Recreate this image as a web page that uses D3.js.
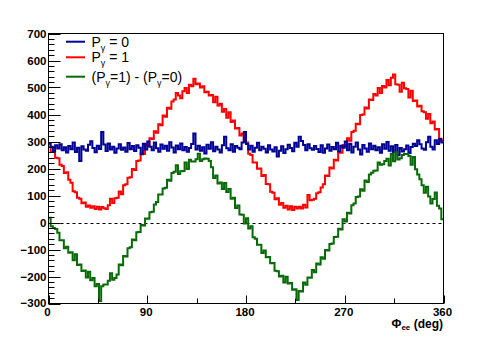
<!DOCTYPE html>
<html>
<head>
<meta charset="utf-8">
<script src="https://d3js.org/d3.v7.min.js"></script>
<style>
  body { margin: 0; background: #fff; }
  svg { display: block; }
  text { font-family: "Liberation Sans", Arial, sans-serif; }
</style>
</head>
<body>
<svg id="chart" width="493" height="337"></svg>
<script>
// bins of 2 deg, 0..360
var binWidth = 2;
var xTicks = [0, 90, 180, 270, 360];
var yTicks = [-300, -200, -100, 0, 100, 200, 300, 400, 500, 600, 700];

var p1 = [ // P_gamma = 1 (red)
  281, 262, 266, 240, 238, 214, 209, 183, 186, 158,
  147, 116, 112, 92, 88, 71, 74, 58, 63, 55,
  60, 50, 58, 48, 57, 53, 50, 64, 88, 72,
  90, 92, 115, 105, 138, 142, 166, 168, 198, 194,
  228, 230, 256, 254, 290, 284, 312, 309, 338, 332,
  364, 360, 396, 392, 425, 421, 448, 456, 480, 470,
  460, 486, 498, 480, 510, 505, 532, 512, 515, 500,
  505, 482, 484, 470, 472, 445, 466, 433, 440, 410,
  420, 388, 408, 372, 378, 348, 350, 322, 330, 298,
  296, 255, 250, 222, 222, 199, 200, 172, 176, 143,
  142, 114, 110, 86, 90, 66, 72, 55, 62, 48,
  60, 46, 58, 52, 58, 52, 66, 56, 102, 82,
  84, 88, 108, 112, 130, 142, 174, 172, 204, 200,
  232, 230, 260, 258, 287, 282, 312, 303, 335, 340,
  366, 364, 398, 400, 426, 422, 456, 454, 476, 470,
  498, 480, 506, 500, 528, 508, 536, 548, 512, 510,
  484, 518, 497, 494, 463, 488, 450, 452, 430, 432,
  412, 408, 384, 402, 368, 374, 344, 346, 310, 304
];

var p0 = [ // P_gamma = 0 (blue)
  292, 281, 263, 286, 274, 290, 268, 279, 259, 283,
  271, 296, 261, 277, 228, 282, 270, 266, 288, 301,
  276, 260, 284, 272, 335, 289, 265, 293, 270, 281,
  258, 274, 290, 269, 278, 262, 294, 271, 283, 265,
  286, 277, 253, 292, 270, 300, 281, 268, 296, 275,
  262, 289, 273, 284, 266, 297, 278, 259, 285, 271,
  293, 268, 280, 262, 276, 291, 330, 270, 284, 266,
  279, 256, 288, 273, 297, 264, 281, 270, 259, 286,
  318, 275, 268, 290, 262, 283, 277, 271, 296, 335,
  291, 270, 284, 262, 277, 295, 268, 281, 273, 259,
  286, 270, 263, 279, 244, 266, 282, 257, 271, 288,
  276, 264, 295, 281, 318, 302, 287, 268, 290, 275,
  269, 283, 272, 261, 286, 258, 274, 289, 266, 280,
  271, 295, 263, 284, 277, 300, 268, 292, 259, 281,
  296, 270, 252, 287, 274, 262, 293, 271, 284, 268,
  279, 258, 290, 273, 298, 266, 282, 261, 287, 249,
  276, 263, 271, 285, 257, 280, 292, 283, 305, 290,
  274, 269, 297, 318, 281, 270, 305, 291, 309, 296
];

var diff = [ // (P=1) - (P=0) (green)
  18, -14, -20, -24, -38, -66, -66, -95, -90, -112,
  -110, -140, -118, -157, -156, -180, -178, -204, -182, -214,
  -206, -236, -228, -291, -236, -230, -230, -216, -188, -212,
  -206, -193, -156, -158, -124, -126, -95, -92, -63, -66,
  -36, -35, -9, -11, 15, 14, 38, 40, 67, 76,
  104, 104, 126, 129, 158, 155, 183, 188, 212, 180,
  190, 191, 222, 198, 232, 226, 226, 234, 255, 228,
  234, 237, 236, 228, 205, 165, 174, 144, 148, 124,
  146, 113, 124, 88, 92, 54, 63, 30, 29, -4,
  16, -22, -14, -55, -60, -82, -82, -113, -104, -129,
  -128, -151, -150, -179, -181, -200, -197, -222, -201, -226,
  -224, -249, -247, -287, -254, -256, -222, -231, -204, -205,
  -176, -184, -152, -156, -129, -134, -102, -104, -80, -78,
  -54, -53, -23, -26, 12, 4, 36, 33, 64, 70,
  94, 96, 123, 118, 156, 150, 178, 184, 192, 193,
  222, 214, 216, 228, 236, 211, 255, 227, 260, 233,
  238, 250, 254, 254, 246, 214, 243, 197, 178, 160,
  138, 110, 132, 96, 70, 87, 111, 62, 52, 12
];

var svg = d3.select("#chart");

var x = d3.scaleLinear().domain([0, 360]).range([48.5, 443.5]),
    y = d3.scaleLinear().domain([-300, 700]).range([303.5, 33.5]);

// histogram as steps
function steps(vals) {
  var pts = vals.map(function(v, i) { return [i * binWidth, v]; });
  pts.push([vals.length * binWidth, vals[vals.length - 1]]);
  return pts;
}
var line = d3.line()
  .curve(d3.curveStepAfter)
  .x(function(d) { return x(d[0]); })
  .y(function(d) { return y(d[1]); });

var series = [
  {id: "p1", vals: p1, color: "#ff0000"},
  {id: "p0", vals: p0, color: "#000096"},
  {id: "diff", vals: diff, color: "#066b06"}
];

// zero line
svg.append("line")
  .attr("x1", x(0)).attr("x2", x(360))
  .attr("y1", Math.round(y(0)) + 0.5).attr("y2", Math.round(y(0)) + 0.5)
  .attr("stroke", "#000").attr("stroke-width", 1)
  .attr("stroke-dasharray", "3,3");

svg.selectAll(".hist")
  .data(series)
  .enter().append("path")
  .attr("class", "hist")
  .attr("d", function(d) { return line(steps(d.vals)); })
  .attr("fill", "none")
  .attr("stroke", function(d) { return d.color; })
  .attr("stroke-width", 2);

// frame
svg.append("rect")
  .attr("x", x(0)).attr("y", y(700))
  .attr("width", x(360) - x(0)).attr("height", y(-300) - y(700))
  .attr("fill", "none").attr("stroke", "#000").attr("stroke-width", 1);

// y axis ticks (inward)
var yMinor = d3.range(-300, 701, 20).filter(function(v) { return v % 100 !== 0; });
svg.selectAll(".ymaj").data(yTicks).enter().append("line")
  .attr("x1", x(0)).attr("x2", x(0) + 12)
  .attr("y1", function(d) { return Math.round(y(d)) + 0.5; })
  .attr("y2", function(d) { return Math.round(y(d)) + 0.5; })
  .attr("stroke", "#000");
svg.selectAll(".ymin").data(yMinor).enter().append("line")
  .attr("x1", x(0)).attr("x2", x(0) + 6)
  .attr("y1", function(d) { return Math.round(y(d)) + 0.5; })
  .attr("y2", function(d) { return Math.round(y(d)) + 0.5; })
  .attr("stroke", "#000");
svg.selectAll(".ylab").data(yTicks).enter().append("text")
  .attr("x", 46.5).attr("y", function(d) { return d === -300 ? y(d) - 1 : y(d); })
  .attr("dy", "0.36em")
  .attr("text-anchor", "end")
  .attr("font-size", "11.5px").attr("font-weight", "bold")
  .text(function(d) { return d < 0 ? "\u2212" + (-d) : d; });

// x axis ticks (inward)
var xMinor = [45, 135, 225, 315];
svg.selectAll(".xmaj").data(xTicks).enter().append("line")
  .attr("x1", function(d) { return Math.round(x(d)) + 0.5; })
  .attr("x2", function(d) { return Math.round(x(d)) + 0.5; })
  .attr("y1", y(-300)).attr("y2", y(-300) - 8)
  .attr("stroke", "#000");
svg.selectAll(".xmin").data(xMinor).enter().append("line")
  .attr("x1", function(d) { return Math.round(x(d)) + 0.5; })
  .attr("x2", function(d) { return Math.round(x(d)) + 0.5; })
  .attr("y1", y(-300)).attr("y2", y(-300) - 5)
  .attr("stroke", "#000");
svg.selectAll(".xlab").data(xTicks).enter().append("text")
  .attr("x", function(d) { return x(d) - 1; }).attr("y", 316)
  .attr("text-anchor", "middle")
  .attr("font-size", "11.5px").attr("font-weight", "bold")
  .text(function(d) { return d; });

// x title
var xt = svg.append("text")
  .attr("x", 443).attr("y", 327.5)
  .attr("text-anchor", "end")
  .attr("font-size", "12px").attr("font-weight", "bold");
xt.append("tspan").text("\u03A6");
xt.append("tspan").attr("font-size", "8px").attr("dy", 2).text("ee");
xt.append("tspan").attr("dy", -2).text(" (deg)");

// legend
var legend = [
  {color: "#000096", y: 41.7, parts: [["P", 0], ["\u03B3", 1], [" = 0", 0]]},
  {color: "#ff0000", y: 57.3, parts: [["P", 0], ["\u03B3", 1], [" = 1", 0]]},
  {color: "#066b06", y: 76.7, parts: [["(P", 0], ["\u03B3", 1], ["=1) - (P", 0], ["\u03B3", 1], ["=0)", 0]]}
];
var lg = svg.selectAll(".leg").data(legend).enter().append("g");
lg.append("line")
  .attr("x1", 66).attr("x2", 85)
  .attr("y1", function(d) { return d.y; }).attr("y2", function(d) { return d.y; })
  .attr("stroke", function(d) { return d.color; }).attr("stroke-width", 2);
lg.each(function(d) {
  var t = d3.select(this).append("text")
    .attr("x", 91.5).attr("y", d.y + 4.8)
    .attr("font-size", "14px");
  var sub = 0;
  d.parts.forEach(function(p) {
    var dy = p[1] ? 4 : (sub ? -4 : 0);
    sub = p[1];
    t.append("tspan")
      .attr("dy", dy)
      .attr("font-size", p[1] ? "9px" : "14px")
      .text(p[0]);
  });
});
</script>
</body>
</html>
